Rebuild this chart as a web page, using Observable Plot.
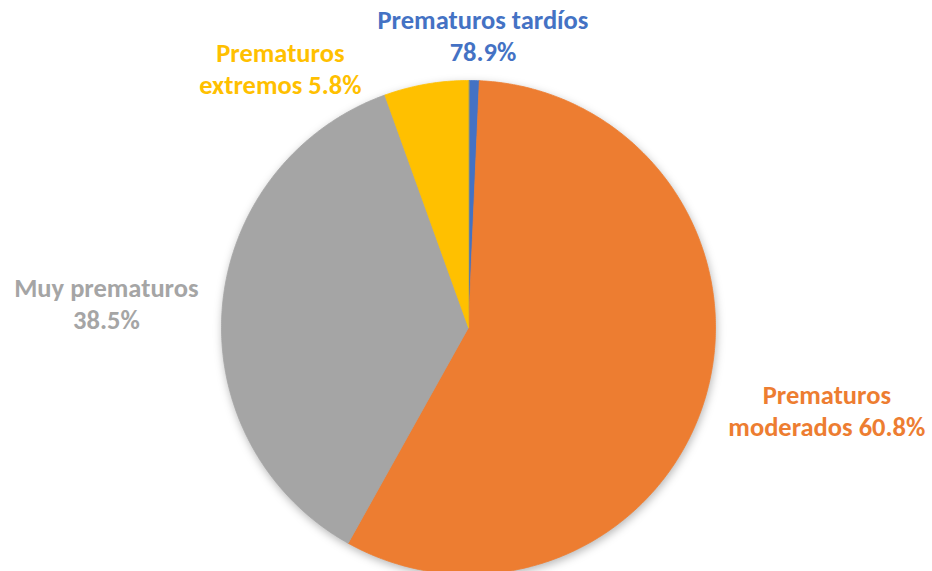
<!DOCTYPE html>
<html><head><meta charset="utf-8">
<script src="https://cdn.jsdelivr.net/npm/d3@7"></script>
<script src="https://cdn.jsdelivr.net/npm/@observablehq/plot@0.6"></script>
<style>body{margin:0;background:#fff;overflow:hidden;}</style>
</head><body><div id="chart"></div>
<script>
// ---- data ----
const categories = ["Prematuros tardíos", "Prematuros moderados", "Muy prematuros", "Prematuros extremos"];
const sliceShares = [0.7, 57.4, 36.4, 5.5];           // share of the pie (%) as drawn
const labelTexts = ["Prematuros tardíos\n78.9%", "Prematuros\nmoderados 60.8%", "Muy prematuros\n38.5%", "Prematuros\nextremos 5.8%"];
const colors = ["#4472C4", "#ED7D31", "#A5A5A5", "#FFC000"];

// ---- layout (label placement relative to each slice) ----
const labelRadius = [1.175, 1.491, 1.469, 1.29];
const labelAngleShift = [1.6, -2.5, -1.1, -26.3]; // degrees from mid-angle

const rows = categories.map((c, i) => ({category: c, value: sliceShares[i], label: labelTexts[i], i}));
const arcs = d3.pie().sort(null).value(d => d.value).startAngle(0).endAngle(2 * Math.PI)(rows);

const points = [];
for (const a of arcs) {
  const c = a.data.category;
  points.push({category: c, x: 0, y: 0});
  const n = Math.max(4, Math.ceil((a.endAngle - a.startAngle) / (Math.PI / 360)));
  for (let k = 0; k <= n; k++) {
    const t = a.startAngle + (a.endAngle - a.startAngle) * k / n;
    points.push({category: c, x: Math.sin(t), y: Math.cos(t)});
  }
}

const labels = arcs.map(a => {
  const i = a.data.i;
  const t = (a.startAngle + a.endAngle) / 2 + labelAngleShift[i] * Math.PI / 180;
  return {category: a.data.category, label: a.data.label, x: labelRadius[i] * Math.sin(t), y: labelRadius[i] * Math.cos(t)};
});

const chart = Plot.plot({
  width: 932,
  height: 571,
  margin: 0,
  style: {fontFamily: "Carlito, Calibri, Lato, sans-serif", overflow: "visible", background: "#fff"},
  x: {domain: [-1, 1], range: [221, 715], axis: null},
  y: {domain: [-1, 1], range: [574, 80], axis: null},
  color: {domain: categories, range: colors},
  marks: [
    Plot.line(points, {x: "x", y: "y", z: "category", fill: "category", stroke: "category", strokeWidth: 0.8, curve: "linear-closed"}),
    Plot.text(labels, {x: "x", y: "y", dy: -2.5, text: "label", fill: "category", fontSize: 26.5, fontWeight: "bold", lineHeight: 1.21, lineAnchor: "middle", textAnchor: "middle"})
  ]
});
document.getElementById("chart").append(chart);
const g = chart.querySelector('g[aria-label="line"]');
if (g) g.style.filter = "drop-shadow(1px 3px 4px rgba(0,0,0,0.28))";
</script>
</body></html>
